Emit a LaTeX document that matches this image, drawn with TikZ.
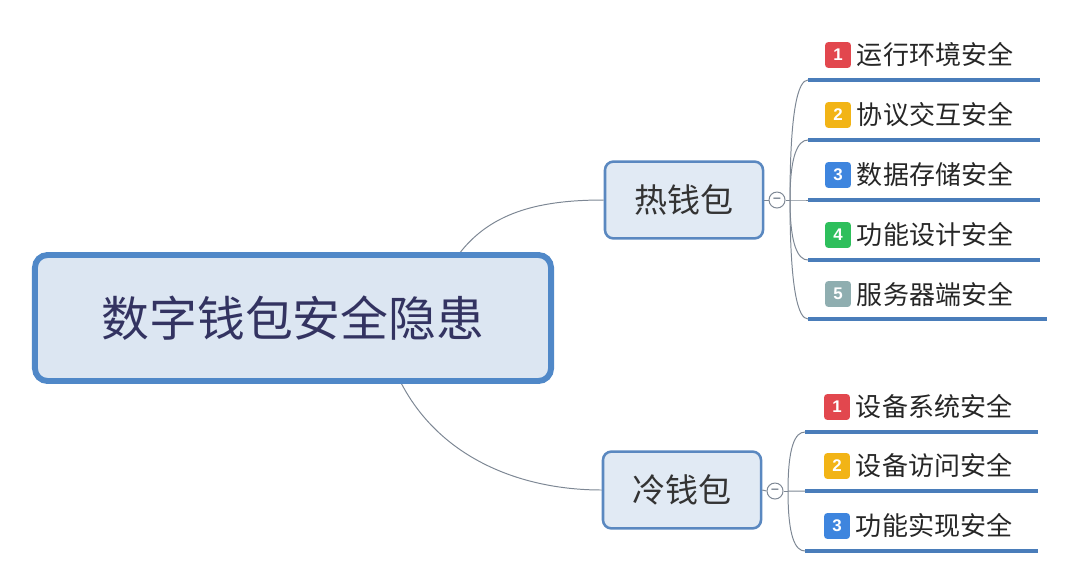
\documentclass[tikz,border=0pt]{standalone}
\usepackage{fontspec}
\setmainfont{Liberation Sans}
\newfontfamily\cjk{Noto Sans CJK SC}
\usetikzlibrary{positioning,calc}
\definecolor{rootblue}{HTML}{5088C8}
\definecolor{rootfill}{HTML}{DCE6F2}
\definecolor{boxblue}{HTML}{5A88C0}
\definecolor{linegray}{HTML}{7D8794}
\definecolor{ulblue}{HTML}{4A7DBA}
\definecolor{bred}{HTML}{E2474E}
\definecolor{bamber}{HTML}{F2B416}
\definecolor{bblue}{HTML}{3E85DE}
\definecolor{bgreen}{HTML}{2EBF5C}
\definecolor{bgray}{HTML}{8FAEB0}

\begin{document}
\begin{tikzpicture}[x=0.025cm, y=-0.025cm,
      root/.style={draw=rootblue, line width=4.2pt, fill=rootfill, rounded corners=9pt,
                   minimum width=12.9cm, minimum height=3.15cm, font=\cjk\fontsize{34}{40}\selectfont,
                   text=black!70!blue!60!gray},
      branch/.style={draw=boxblue, line width=1.8pt, fill=rootfill!85!white, rounded corners=6pt,
                     minimum width=3.95cm, minimum height=1.92cm, font=\cjk\fontsize{23.5}{28}\selectfont,
                     text=black!80},
      badge/.style={rounded corners=2pt, minimum size=0.64cm, inner sep=0pt, text=white,
                    font=\bfseries\fontsize{12}{13}\selectfont},
      leaf/.style={inner sep=0pt, font=\cjk\fontsize{18.5}{22}\selectfont, text=black!85},
      link/.style={draw=linegray, line width=0.7pt},
      uline/.style={draw=ulblue, line width=3.2pt},
      fold/.style={circle, draw=linegray, line width=0.7pt, fill=white, minimum size=0.4cm,
                   inner sep=0pt, font=\fontsize{10}{10}\selectfont, text=linegray}]
  \useasboundingbox (0,0) rectangle (1080,581);

  % connectors behind the root
  \coordinate (rj1) at (430,318);
  \coordinate (rj2) at (380,318);
  \node[branch] (hot) at (684,200) {热钱包};
  \node[branch] (cold) at (682,490) {冷钱包};
  \draw[link] (rj1) .. controls (455,220) and (520,200) .. (hot.west);
  \draw[link] (rj2) .. controls (400,440) and (500,490) .. (cold.west);
  \node[root] (root) at (293,318) {数字钱包安全隐患};

  % hot wallet
  \node[fold] (hf) at (777,200) {\textbf{--}};
  \coordinate (hj) at (790,200);
  \draw[link] (hot.east) -- (hf.west);
  \draw[link] (hf.east) -- (hj);
  \foreach \n/\y/\c/\t/\e in {1/80/bred/运行环境安全/1040, 2/140/bamber/协议交互安全/1040,
      3/200/bblue/数据存储安全/1040, 4/260/bgreen/功能设计安全/1040, 5/319/bgray/服务器端安全/1047} {
    \coordinate (h\n) at (808,\y);
    \coordinate (he\n) at (\e,\y);
    \draw[link] (hj) .. controls ($(hj)!0.75!(hj |- h\n)$) and ($(h\n)+(-10,0)$) .. (h\n);
    \draw[uline] (h\n) -- (he\n);
    \node[badge, fill=\c] (hb\n) at (838,\y-25) {\n};
    \node[leaf, right=4pt of hb\n] (ht\n) {\t};
  }

  % cold wallet
  \node[fold] (cf) at (775,491) {\textbf{--}};
  \coordinate (cj) at (788,491);
  \draw[link] (cold.east) -- (cf.west);
  \draw[link] (cf.east) -- (cj);
  \foreach \n/\y/\c/\t in {1/432/bred/设备系统安全, 2/491/bamber/设备访问安全, 3/551/bblue/功能实现安全} {
    \coordinate (c\n) at (805,\y);
    \coordinate (ce\n) at (1038,\y);
    \draw[link] (cj) .. controls ($(cj)!0.75!(cj |- c\n)$) and ($(c\n)+(-10,0)$) .. (c\n);
    \draw[uline] (c\n) -- (ce\n);
    \node[badge, fill=\c] (cb\n) at (837,\y-25) {\n};
    \node[leaf, right=4pt of cb\n] (ct\n) {\t};
  }
\end{tikzpicture}
\end{document}
